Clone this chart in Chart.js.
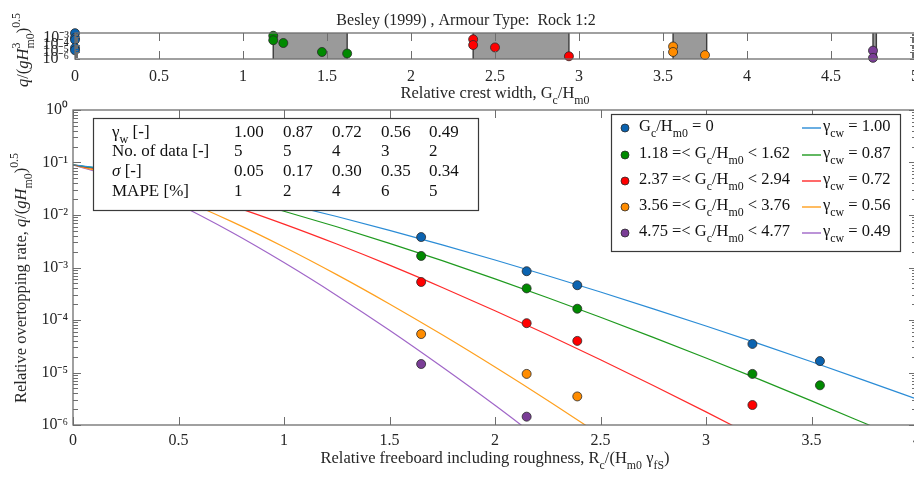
<!DOCTYPE html>
<html>
<head>
<meta charset="utf-8">
<script src="https://cdn.jsdelivr.net/npm/chart.js@4/dist/chart.umd.min.js"></script>
<style>
  html, body { margin: 0; padding: 0; background: #fff; overflow: hidden; }
  body { width: 914px; height: 477px; position: relative; }
  canvas { position: absolute; left: 0; }
  #topChart  { top: 0; z-index: 2; }
  #mainChart { top: 100px; z-index: 1; }
</style>
</head>
<body>
<canvas id="topChart" width="925" height="108"></canvas>
<canvas id="mainChart" width="925" height="377"></canvas>
<script>
// ---- data ----
// groups (colour classes of G_c/H_m0)
const groupNames = ["0", "1.18-1.62", "2.37-2.94", "3.56-3.76", "4.75-4.77"];

// relative freeboard R_c/(H_m0 γ_fS) of the test points
const rcBlue   = [1.65, 2.15, 2.39, 3.22, 3.54];
const rcGreen  = [1.65, 2.15, 2.39, 3.22, 3.54];
const rcRed    = [1.65, 2.15, 2.39, 3.22];
const rcOrange = [1.65, 2.15, 2.39];
const rcPurple = [1.65, 2.15];

// relative overtopping rate of the test points
const qBlue   = [3.8e-3, 8.5e-4, 4.6e-4, 3.5e-5, 1.65e-5];
const qGreen  = [1.66e-3, 4.0e-4, 1.64e-4, 9.4e-6, 5.7e-6];
const qRed    = [5.3e-4, 8.7e-5, 4.0e-5, 2.4e-6];
const qOrange = [5.4e-5, 9.4e-6, 3.5e-6];
const qPurple = [1.45e-5, 1.44e-6];

// relative crest width G_c/H_m0 of the same points (top panel)
const gcBlue   = [0, 0, 0, 0, 0];
const gcGreen  = [1.18, 1.18, 1.24, 1.47, 1.62];
const gcRed    = [2.37, 2.37, 2.5, 2.94];
const gcOrange = [3.56, 3.56, 3.75];
const gcPurple = [4.75, 4.75];

// crest width ranges (grey bands in top panel)
const rangeLo = [1.18, 2.37, 3.56, 4.75];
const rangeHi = [1.62, 2.94, 3.76, 4.77];

// fitted curves, read every 0.25 along the x axis
const xCurve = [0, 0.25, 0.5, 0.75, 1, 1.25, 1.5, 1.75, 2, 2.25, 2.5, 2.75, 3, 3.25, 3.5, 3.75, 4];
const curve100 = [0.09, 0.0681, 0.0452, 0.0281, 0.0165, 0.00935, 0.0051, 0.0027, 0.00139, 6.97e-4, 3.41e-4, 1.63e-4, 7.67e-5, 3.54e-5, 1.60e-5, 7.1e-6, 3.1e-6];
const curve087 = [0.09, 0.0644, 0.0395, 0.0223, 0.0118, 0.00597, 0.00289, 0.00135, 6.07e-4, 2.65e-4, 1.13e-4, 4.67e-5, 1.89e-5, 7.46e-6, 2.88e-6, 1.09e-6, 4.1e-7];
const curve072 = [0.09, 0.0586, 0.0313, 0.0151, 0.00671, 0.0028, 0.00111, 4.17e-4, 1.5e-4, 5.22e-5, 1.75e-5, 5.66e-6, 1.78e-6, 5.4e-7];
const curve056 = [0.09, 0.0497, 0.0209, 0.00756, 0.00246, 7.32e-4, 2.02e-4, 5.22e-5, 1.27e-5, 2.93e-6, 6.4e-7];
const curve049 = [0.09, 0.0444, 0.0158, 0.00473, 0.00124, 2.94e-4, 6.37e-5, 1.27e-5, 2.37e-6, 4.1e-7];

// table
const gammaW = ["1.00", "0.87", "0.72", "0.56", "0.49"];
const nData  = ["5", "5", "4", "3", "2"];
const sigma  = ["0.05", "0.17", "0.30", "0.35", "0.34"];
const mape   = ["1", "2", "4", "6", "5"];

// legend
const legendRanges = [null, ["1.18", "1.62"], ["2.37", "2.94"], ["3.56", "3.76"], ["4.75", "4.77"]];
const gammaCw = ["1.00", "0.87", "0.72", "0.56", "0.49"];

// ticks
const xTicksTop   = 0.5;
const yTicksTop   = [1e-6, 1e-5, 1e-4, 1e-3];
const yTicksMain  = [1e-6, 1e-5, 1e-4, 1e-3, 1e-2, 1e-1, 1];

// ---- styles ----
const FONT = '"Liberation Serif", "Times New Roman", serif';
const axisCol = "#6e6e6e";
const textCol = "#262626";
const pointCol = ["#0b63b0", "#008a00", "#ff0000", "#ff8c00", "#7a3d96"];
const lineCol  = ["#2b8cd6", "#1f9a1f", "#ff2a2a", "#ffa01e", "#a066c8"];

const toXY = (xs, ys) => ys.map((y, i) => ({ x: xs[i], y: y }));

// rich text: segments [text, style] where style may hold i (italic), _ (sub), ^ (sup), k (no advance)
function rich(ctx, segs, x, y, size, align) {
  const fontOf = st => (st.includes("i") ? "italic " : "") +
    ((st.includes("_") || st.includes("^")) ? size * 0.72 : size) + "px " + FONT;
  let w = 0;
  segs.forEach(([t, st]) => { ctx.font = fontOf(st); if (!st.includes("k")) w += ctx.measureText(t).width; });
  let cx = align === "center" ? x - w / 2 : align === "right" ? x - w : x;
  ctx.textAlign = "left";
  ctx.textBaseline = "middle";
  segs.forEach(([t, st]) => {
    ctx.font = fontOf(st);
    const dy = st.includes("_") ? size * 0.42 : st.includes("^") ? -size * 0.42 : 0;
    ctx.fillText(t, cx, y + dy);
    if (!st.includes("k")) cx += ctx.measureText(t).width;
  });
  return w;
}

const supMap = { "-": "⁻", "0": "⁰", "1": "¹", "2": "²", "3": "³", "4": "⁴", "5": "⁵", "6": "⁶" };
const powLabel = v => "10" + String(Math.round(Math.log10(v))).split("").map(c => supMap[c]).join("");

// minor log ticks between the decades
function minorTicks(min, max) {
  const out = [];
  for (let e = Math.floor(Math.log10(min)); e < Math.ceil(Math.log10(max)); e++) {
    for (let m = 2; m <= 9; m++) {
      const v = m * Math.pow(10, e);
      if (v > min && v < max) out.push(v);
    }
  }
  return out;
}

// box + inward ticks on all four sides
function framePlugin(id, xLen, yLen, yMinLen) {
  return {
    id: id,
    afterDatasetsDraw(chart) {
      const { ctx, chartArea: a, scales: { x, y } } = chart;
      ctx.save();
      ctx.strokeStyle = axisCol;
      ctx.lineWidth = 1;
      const seg = (x1, y1, x2, y2) => { ctx.beginPath(); ctx.moveTo(x1, y1); ctx.lineTo(x2, y2); ctx.stroke(); };
      x.ticks.forEach(t => {
        const px = Math.round(x.getPixelForValue(t.value)) + 0.5;
        seg(px, a.bottom, px, a.bottom - xLen);
        seg(px, a.top, px, a.top + xLen);
      });
      y.ticks.forEach(t => {
        const py = Math.round(y.getPixelForValue(t.value)) + 0.5;
        seg(a.left, py, a.left + yLen, py);
        seg(a.right, py, a.right - yLen, py);
      });
      minorTicks(y.min, y.max).forEach(v => {
        const py = Math.round(y.getPixelForValue(v)) + 0.5;
        seg(a.left, py, a.left + yMinLen, py);
        seg(a.right, py, a.right - yMinLen, py);
      });
      ctx.lineWidth = 1.3;
      ctx.strokeRect(a.left, a.top, a.right - a.left, a.bottom - a.top);
      ctx.restore();
    }
  };
}

const pointSet = (xs, ys, i) => ({
  type: "scatter", data: toXY(xs, ys), order: 0, clip: false,
  pointRadius: 4.5, pointHoverRadius: 4.5,
  backgroundColor: pointCol[i], borderColor: "#2a2a2a", borderWidth: 0.8
});
const lineSet = (ys, i) => ({
  type: "line", data: toXY(xCurve, ys), order: 1,
  borderColor: lineCol[i], borderWidth: 1.2, pointRadius: 0, fill: false,
  cubicInterpolationMode: "monotone"
});

const tickFont = { family: FONT, size: 16 };

// ===================== top panel =====================
const greyBands = {
  id: "greyBands",
  beforeDatasetsDraw(chart) {
    const { ctx, chartArea: a, scales: { x } } = chart;
    ctx.save();
    rangeLo.forEach((lo, i) => {
      const x1 = x.getPixelForValue(lo), x2 = x.getPixelForValue(rangeHi[i]);
      ctx.fillStyle = "#9a9a9a";
      ctx.fillRect(x1, a.top, x2 - x1, a.bottom - a.top);
      ctx.strokeStyle = "#3c3c3c";
      ctx.lineWidth = 1.4;
      ctx.beginPath();
      ctx.moveTo(x1, a.top); ctx.lineTo(x1, a.bottom);
      ctx.moveTo(x2, a.top); ctx.lineTo(x2, a.bottom);
      ctx.stroke();
    });
    ctx.restore();
  }
};

const topText = {
  id: "topText",
  afterDraw(chart) {
    const ctx = chart.ctx;
    ctx.save();
    ctx.fillStyle = textCol;
    rich(ctx, [["Besley (1999) , Armour Type:  Rock 1:2", ""]], 466, 21, 16, "center");
    rich(ctx, [["Relative crest width, G", ""], ["c", "_"], ["/H", ""], ["m0", "_"]], 495, 94, 16.5, "center");
    ctx.translate(24, 50);
    ctx.rotate(-Math.PI / 2);
    rich(ctx, [["q", "i"], ["/(", ""], ["g", "i"], ["H", "i"], ["3", "^k"], ["m0", "_"], [")", ""], ["0.5", "^"]], 0, 0, 16.5, "center");
    ctx.restore();
  }
};

new Chart(document.getElementById("topChart"), {
  type: "scatter",
  data: {
    datasets: [
      pointSet(gcBlue, qBlue, 0),
      pointSet(gcGreen, qGreen, 1),
      pointSet(gcRed, qRed, 2),
      pointSet(gcOrange, qOrange, 3),
      pointSet(gcPurple, qPurple, 4)
    ]
  },
  options: {
    responsive: false,
    animation: false,
    events: [],
    layout: { padding: { top: 33, right: 10, left: 0, bottom: 0 } },
    plugins: { legend: { display: false }, tooltip: { enabled: false } },
    scales: {
      x: {
        type: "linear", min: 0, max: 5,
        grid: { display: false }, border: { display: false },
        ticks: { stepSize: xTicksTop, padding: 0, color: textCol, font: tickFont, maxRotation: 0, autoSkip: false, callback: v => String(v) },
        afterFit: s => { s.height = 49; }
      },
      y: {
        type: "logarithmic", min: 1e-6, max: 4e-3, bounds: "data",
        grid: { display: false }, border: { display: false },
        ticks: { padding: -2, color: textCol, font: tickFont, autoSkip: false, callback: v => powLabel(v) },
        afterBuildTicks: s => { s.ticks = yTicksTop.map(v => ({ value: v })); },
        afterFit: s => { s.width = 75; }
      }
    }
  },
  plugins: [greyBands, framePlugin("frameTop", 8, 5, 3), topText]
});

// ===================== main panel =====================
const mainText = {
  id: "mainText",
  afterDraw(chart) {
    const ctx = chart.ctx;
    ctx.save();
    ctx.fillStyle = textCol;
    // axis titles
    rich(ctx, [["Relative freeboard including roughness, R", ""], ["c", "_"], ["/(H", ""], ["m0", "_"], [" γ", ""], ["fS", "_"], [")", ""]], 495, 359, 16.5, "center");
    ctx.save();
    ctx.translate(22, 178);
    ctx.rotate(-Math.PI / 2);
    rich(ctx, [["Relative overtopping rate, ", ""], ["q", "i"], ["/(", ""], ["g", "i"], ["H", "i"], ["m0", "_"], [")", ""], ["0.5", "^"]], 0, 0, 16.5, "center");
    ctx.restore();

    // table box
    ctx.fillStyle = "#fff";
    ctx.fillRect(93, 18, 385, 92);
    ctx.strokeStyle = "#3a3a3a";
    ctx.lineWidth = 1.2;
    ctx.strokeRect(93.5, 18.5, 385, 92);
    ctx.fillStyle = "#111";
    const rowsY = [33, 52, 72, 92];
    const colX = [234, 283, 332, 381, 429];
    const rowLabels = [
      [["γ", ""], ["w", "_"], [" [-]", ""]],
      [["No. of data [-]", ""]],
      [["σ", "i"], [" [-]", ""]],
      [["MAPE [%]", ""]]
    ];
    const rowVals = [gammaW, nData, sigma, mape];
    rowLabels.forEach((segs, r) => {
      rich(ctx, segs, 112, rowsY[r], 17, "left");
      rowVals[r].forEach((v, c) => rich(ctx, [[v, ""]], colX[c], rowsY[r], 17, "left"));
    });

    // legend box
    ctx.fillStyle = "#fff";
    ctx.fillRect(611, 14, 289, 137);
    ctx.strokeStyle = "#3a3a3a";
    ctx.strokeRect(611.5, 14.5, 289, 137);
    const legY = [27, 54, 80, 106, 132];
    legY.forEach((ly, i) => {
      ctx.beginPath();
      ctx.arc(625, ly + 1, 4, 0, Math.PI * 2);
      ctx.fillStyle = pointCol[i];
      ctx.fill();
      ctx.lineWidth = 0.8;
      ctx.strokeStyle = "#2a2a2a";
      ctx.stroke();
      ctx.fillStyle = "#111";
      const r = legendRanges[i];
      const segs = r === null
        ? [["G", ""], ["c", "_"], ["/H", ""], ["m0", "_"], [" = 0", ""]]
        : [[r[0] + " =< G", ""], ["c", "_"], ["/H", ""], ["m0", "_"], [" < " + r[1], ""]];
      rich(ctx, segs, 639, ly, 16.5, "left");
      ctx.save();
      ctx.globalAlpha = 0.7;
      ctx.strokeStyle = lineCol[i];
      ctx.lineWidth = 2;
      ctx.beginPath();
      ctx.moveTo(802, ly + 1); ctx.lineTo(821, ly + 1);
      ctx.stroke();
      ctx.restore();
      ctx.fillStyle = "#111";
      rich(ctx, [["γ", ""], ["cw", "_"], [" = " + gammaCw[i], ""]], 823, ly, 16.5, "left");
    });
    ctx.restore();
  }
};

new Chart(document.getElementById("mainChart"), {
  type: "scatter",
  data: {
    datasets: [
      pointSet(rcBlue, qBlue, 0),
      pointSet(rcGreen, qGreen, 1),
      pointSet(rcRed, qRed, 2),
      pointSet(rcOrange, qOrange, 3),
      pointSet(rcPurple, qPurple, 4),
      lineSet(curve100, 0),
      lineSet(curve087, 1),
      lineSet(curve072, 2),
      lineSet(curve056, 3),
      lineSet(curve049, 4)
    ]
  },
  options: {
    responsive: false,
    animation: false,
    events: [],
    layout: { padding: { top: 10, right: 8, left: 0, bottom: 0 } },
    plugins: { legend: { display: false }, tooltip: { enabled: false } },
    scales: {
      x: {
        type: "linear", min: 0, max: 4,
        grid: { display: false }, border: { display: false },
        ticks: { stepSize: 0.5, padding: -2, color: textCol, font: tickFont, maxRotation: 0, autoSkip: false, callback: v => String(v) },
        afterFit: s => { s.height = 52; }
      },
      y: {
        type: "logarithmic", min: 1e-6, max: 1, bounds: "data",
        grid: { display: false }, border: { display: false },
        ticks: { padding: -3, color: textCol, font: tickFont, autoSkip: false, callback: v => powLabel(v) },
        afterBuildTicks: s => { s.ticks = yTicksMain.map(v => ({ value: v })); },
        afterFit: s => { s.width = 73; }
      }
    }
  },
  plugins: [framePlugin("frameMain", 8, 8, 5), mainText]
});
</script>
</body>
</html>
